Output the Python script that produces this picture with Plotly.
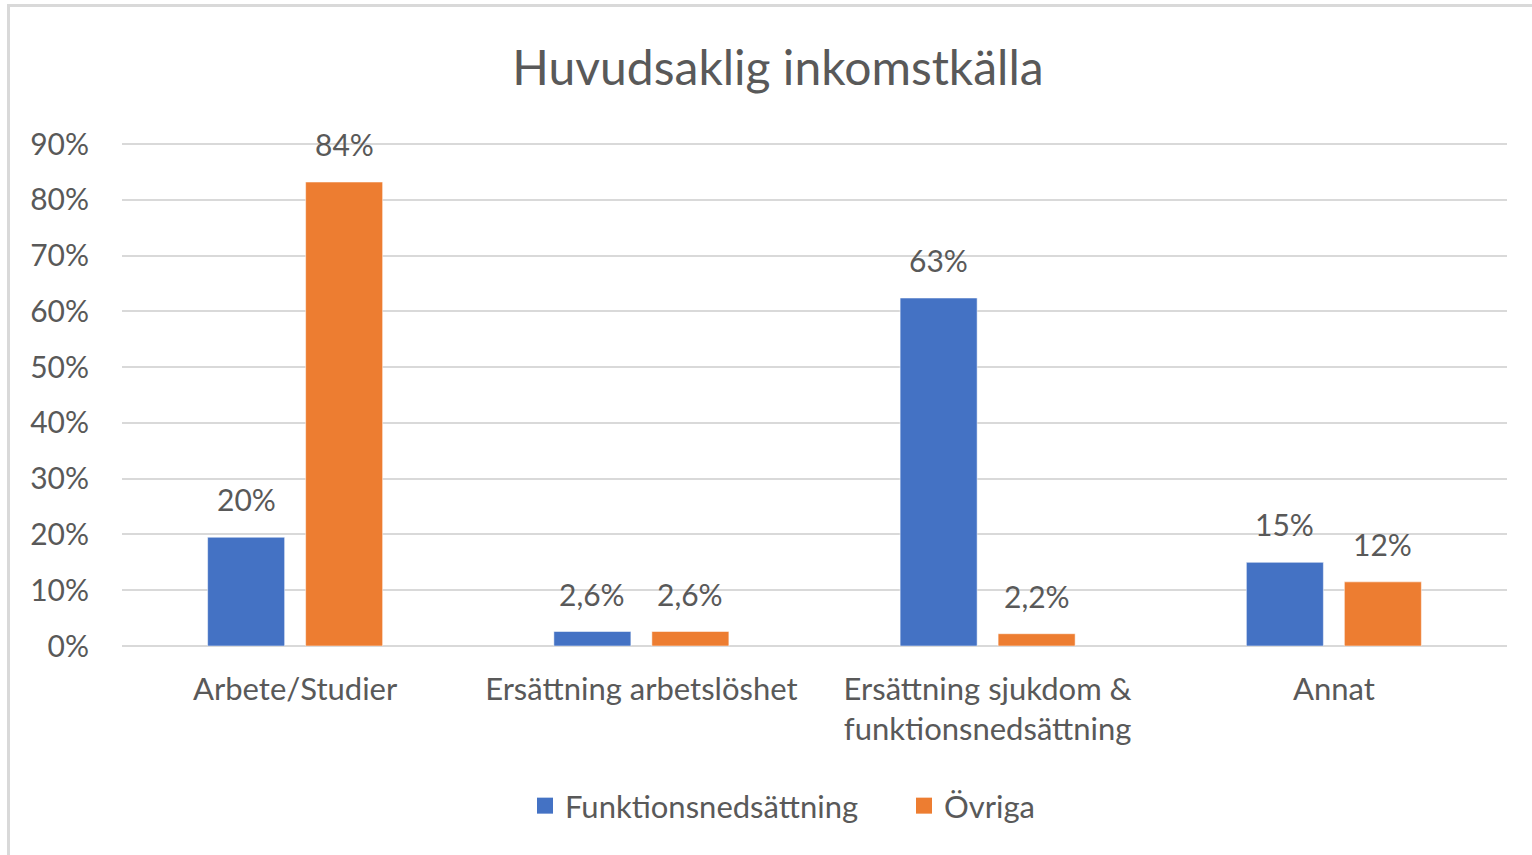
import plotly.graph_objects as go

CATEGORIES = ["Arbete/Studier", "Ersättning arbetslöshet",
              "Ersättning sjukdom &<br>funktionsnedsättning", "Annat"]
SERIES = ["Funktionsnedsättning", "Övriga"]
COLORS = ["#4472C4", "#ED7D31"]

# values, labels as printed in the chart
FUNK_VALUES = [0.195, 0.026, 0.624, 0.150]
OVRIGA_VALUES = [0.832, 0.026, 0.022, 0.115]
FUNK_LABELS = ["20%", "2,6%", "63%", "15%"]
OVRIGA_LABELS = ["84%", "2,6%", "2,2%", "12%"]

Y_TICKS = [i / 10 for i in range(10)]
Y_TICK_TEXT = [f"{i * 10}%" for i in range(10)]

FONT = "Lato, Open Sans, sans-serif"
TEXT_COLOR = "#595959"
GRID = "#d9d9d9"

W, H = 1532, 855
L, R, T, B = 122, 25, 143, 209

fig = go.Figure()
values = [FUNK_VALUES, OVRIGA_VALUES]
labels = [FUNK_LABELS, OVRIGA_LABELS]
for i, name in enumerate(SERIES):
    fig.add_trace(go.Bar(
        x=CATEGORIES, y=values[i], name=name, showlegend=False, legendgroup=name,
        marker=dict(color=COLORS[i], line=dict(color="rgba(255,255,255,0.5)", width=1)),
        hoverinfo="skip",
    ))
    # legend entry with a bigger square than the bar icon
    fig.add_trace(go.Scatter(
        x=[None], y=[None], name=name, legendgroup=name, mode="markers",
        marker=dict(symbol="square", size=17, color=COLORS[i]),
    ))
    # data labels above each bar
    shift = -49 if i == 0 else 49
    for c, v, t in zip(CATEGORIES, values[i], labels[i]):
        fig.add_annotation(x=c, y=v, text=t, showarrow=False, xshift=shift,
                           yanchor="bottom", yshift=18,
                           font=dict(family=FONT, size=30, color=TEXT_COLOR))

# outer chart border (only top and left visible in the crop)
px = lambda x: (x - L) / (W - L - R)
py = lambda y: (H - B - y) / (H - T - B)
fig.add_shape(type="rect", xref="paper", yref="paper",
              x0=px(8.5), x1=px(1580), y0=py(900), y1=py(5.5),
              line=dict(color=GRID, width=3), layer="below")

fig.update_layout(
    width=W, height=H,
    margin=dict(l=L, r=R, t=T, b=B),
    paper_bgcolor="white", plot_bgcolor="white",
    barmode="group", bargap=0.434, bargroupgap=0.214,
    title=dict(text="Huvudsaklig inkomstkälla", x=778 / W, xref="container", xanchor="center",
               y=1 - 68 / H, yanchor="middle",
               font=dict(family=FONT, size=48, color=TEXT_COLOR)),
    legend=dict(orientation="h", x=904 / W, xanchor="center", xref="container",
                y=1 - 806 / H, yanchor="middle", yref="container",
                font=dict(family=FONT, size=31, color=TEXT_COLOR),
                itemwidth=30, tracegroupgap=0, entrywidth=334),
    font=dict(family=FONT, color=TEXT_COLOR),
)
fig.update_yaxes(range=[0, 0.902], tickvals=Y_TICKS, ticktext=Y_TICK_TEXT,
                 showgrid=True, gridcolor=GRID, gridwidth=2,
                 zeroline=True, zerolinecolor=GRID, zerolinewidth=2,
                 showline=False, ticks="", ticklabelstandoff=32,
                 tickfont=dict(family=FONT, size=30, color=TEXT_COLOR))
fig.update_xaxes(showline=False, ticks="", ticklabelstandoff=22,
                 tickfont=dict(family=FONT, size=31, color=TEXT_COLOR))

fig.write_html("out.html", config={"displayModeBar": False},
               post_script="document.body.style.margin='0';document.body.style.overflow='hidden';")
